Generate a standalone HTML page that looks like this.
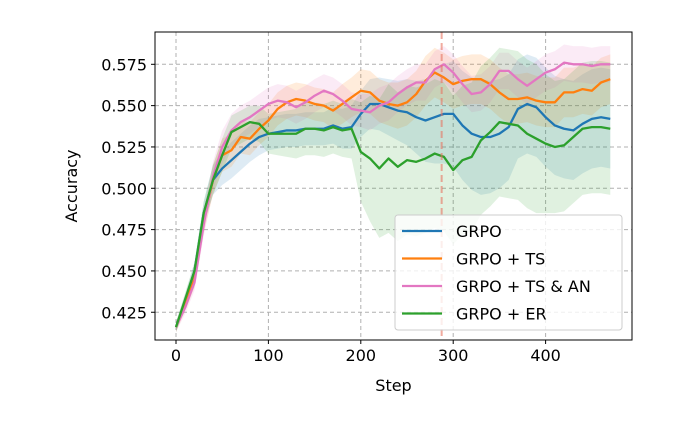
<!DOCTYPE html>
<html><head><meta charset="utf-8">
<style>
body{margin:0;background:#fff;}
svg{display:block;font-family:"DejaVu Sans","Liberation Sans",sans-serif;}
</style></head>
<body>
<svg id="chart" width="689" height="431" viewBox="0 0 689 431"></svg>
<script>
const steps = [0,10,20,30,40,50,60,70,80,90,100,110,120,130,140,150,160,170,180,190,200,210,220,230,240,250,260,270,280,290,300,310,320,330,340,350,360,370,380,390,400,410,420,430,440,450,460,470];
const grpo = [0.416,0.432,0.45,0.485,0.505,0.512,0.517,0.522,0.527,0.531,0.533,0.534,0.535,0.535,0.536,0.536,0.536,0.538,0.536,0.537,0.545,0.551,0.551,0.549,0.547,0.546,0.543,0.541,0.543,0.545,0.545,0.538,0.533,0.531,0.531,0.533,0.537,0.548,0.551,0.549,0.543,0.538,0.536,0.535,0.539,0.542,0.543,0.542];
const grpoTs = [0.416,0.43,0.445,0.48,0.505,0.52,0.523,0.531,0.530,0.536,0.541,0.548,0.552,0.554,0.553,0.551,0.550,0.547,0.551,0.555,0.559,0.558,0.553,0.551,0.550,0.552,0.557,0.565,0.570,0.567,0.563,0.565,0.566,0.566,0.563,0.558,0.554,0.554,0.555,0.553,0.552,0.552,0.558,0.558,0.560,0.559,0.564,0.566];
const grpoTsAn = [0.416,0.428,0.443,0.478,0.507,0.525,0.535,0.54,0.543,0.547,0.551,0.553,0.552,0.549,0.552,0.556,0.559,0.557,0.553,0.548,0.547,0.546,0.55,0.552,0.557,0.561,0.564,0.564,0.572,0.575,0.570,0.563,0.557,0.558,0.563,0.571,0.571,0.566,0.562,0.566,0.570,0.572,0.576,0.575,0.575,0.574,0.575,0.575];
const grpoEr = [0.416,0.433,0.45,0.485,0.505,0.52,0.534,0.537,0.540,0.539,0.533,0.533,0.533,0.533,0.536,0.536,0.535,0.537,0.535,0.536,0.522,0.518,0.512,0.518,0.513,0.517,0.516,0.518,0.521,0.519,0.511,0.517,0.519,0.529,0.534,0.540,0.539,0.538,0.533,0.530,0.527,0.525,0.526,0.531,0.536,0.537,0.537,0.536];
const spreadGrpo = [0.003,0.004,0.005,0.007,0.009,0.01,0.011,0.011,0.011,0.011,0.01,0.01,0.01,0.01,0.01,0.01,0.01,0.011,0.012,0.013,0.014,0.015,0.016,0.017,0.018,0.02,0.022,0.025,0.028,0.03,0.032,0.033,0.034,0.035,0.034,0.033,0.032,0.03,0.03,0.03,0.03,0.03,0.03,0.03,0.03,0.03,0.03,0.03];
const spreadTs = [0.003,0.004,0.005,0.007,0.009,0.01,0.01,0.01,0.01,0.01,0.01,0.01,0.01,0.01,0.01,0.01,0.01,0.011,0.012,0.012,0.013,0.013,0.013,0.013,0.014,0.014,0.014,0.015,0.015,0.015,0.015,0.015,0.015,0.015,0.015,0.015,0.015,0.015,0.015,0.015,0.015,0.015,0.015,0.015,0.015,0.015,0.015,0.015];
const spreadAn = [0.003,0.004,0.005,0.007,0.009,0.01,0.01,0.01,0.01,0.01,0.01,0.01,0.01,0.01,0.01,0.01,0.01,0.01,0.01,0.01,0.01,0.011,0.011,0.011,0.011,0.011,0.011,0.011,0.011,0.011,0.011,0.011,0.011,0.011,0.011,0.011,0.011,0.011,0.011,0.011,0.011,0.011,0.011,0.011,0.011,0.011,0.011,0.011];
const spreadEr = [0.003,0.004,0.005,0.007,0.009,0.01,0.01,0.01,0.01,0.011,0.012,0.013,0.014,0.015,0.016,0.016,0.016,0.016,0.016,0.018,0.03,0.038,0.042,0.045,0.045,0.045,0.045,0.045,0.045,0.045,0.045,0.045,0.045,0.045,0.045,0.045,0.045,0.045,0.045,0.045,0.042,0.04,0.04,0.04,0.04,0.04,0.04,0.04];
const xTicks = [0,100,200,300,400];
const yTicks = [0.425,0.45,0.475,0.5,0.525,0.55,0.575];
const markerStep = 287.5;

const NS="http://www.w3.org/2000/svg";
const svg=document.getElementById('chart');
const L=155,R=632,T=32,B=340;
const xS=s=>176+s*0.924;
const yS=v=>64.3+(0.575-v)*1653;
function mk(tag,attrs,parent){const e=document.createElementNS(NS,tag);for(const k in attrs)e.setAttribute(k,attrs[k]);(parent||svg).appendChild(e);return e;}

const grid=mk('g',{});


xTicks.forEach(t=>{mk('line',{x1:xS(t),x2:xS(t),y1:T,y2:B,stroke:'#b0b0b0','stroke-width':1,'stroke-dasharray':'4,3'},grid);});
yTicks.forEach(t=>{mk('line',{x1:L,x2:R,y1:yS(t),y2:yS(t),stroke:'#b0b0b0','stroke-width':1,'stroke-dasharray':'4,3'},grid);});

const series=[
 {name:'grpo',vals:grpo,sp:spreadGrpo,c:'#1f77b4',label:'GRPO'},
 {name:'grpo-ts',vals:grpoTs,sp:spreadTs,c:'#ff7f0e',label:'GRPO + TS'},
 {name:'grpo-ts-an',vals:grpoTsAn,sp:spreadAn,c:'#e377c2',label:'GRPO + TS & AN'},
 {name:'grpo-er',vals:grpoEr,sp:spreadEr,c:'#2ca02c',label:'GRPO + ER'}
];
series.forEach(s=>{
  let up=steps.map((st,i)=>xS(st)+','+yS(s.vals[i]+s.sp[i]));
  let lo=steps.map((st,i)=>xS(st)+','+yS(s.vals[i]-s.sp[i])).reverse();
  const band=mk('polygon',{points:up.concat(lo).join(' '),fill:s.c,'fill-opacity':0.15});
  
  
});
series.forEach(s=>{
  const line=mk('polyline',{points:steps.map((st,i)=>xS(st)+','+yS(s.vals[i])).join(' '),fill:'none',stroke:s.c,'stroke-width':2.3,'stroke-linejoin':'round'});
  
  
});
const vl=mk('line',{x1:xS(markerStep),x2:xS(markerStep),y1:T,y2:B,stroke:'#e8735f','stroke-opacity':0.6,'stroke-width':2,'stroke-dasharray':'7,4'});



const frame=mk('rect',{x:L,y:T,width:R-L,height:B-T,fill:'none',stroke:'#000','stroke-width':1});



xTicks.forEach(t=>{
  mk('line',{x1:xS(t),x2:xS(t),y1:B,y2:B+4,stroke:'#000'});
  const tx=mk('text',{x:xS(t),y:B+21,'text-anchor':'middle','font-size':16});
  tx.textContent=t;
  
  
});
yTicks.forEach(t=>{
  mk('line',{x1:L-4,x2:L,y1:yS(t),y2:yS(t),stroke:'#000'});
  const tx=mk('text',{x:L-8,y:yS(t)+6,'text-anchor':'end','font-size':16});
  tx.textContent=t.toFixed(3);
  
  
});
const xt=mk('text',{x:(L+R)/2,y:391,'text-anchor':'middle','font-size':16});
xt.textContent='Step';


const yt=mk('text',{x:0,y:0,'text-anchor':'middle','font-size':16,transform:'translate(77,186) rotate(-90)'});
yt.textContent='Accuracy';



const lg=mk('g',{});


mk('rect',{x:395,y:215,width:227,height:115,rx:3,fill:'#fff','fill-opacity':0.8,stroke:'#ccc'},lg);
series.forEach((s,i)=>{
  const y=231+i*27.5;
  const e=mk('g',{},lg);
  
  
  mk('line',{x1:402,x2:442,y1:y,y2:y,stroke:s.c,'stroke-width':2.3},e);
  const t=mk('text',{x:456,y:y+6,'font-size':16},e);
  t.textContent=s.label;
});
</script>
</body></html>
